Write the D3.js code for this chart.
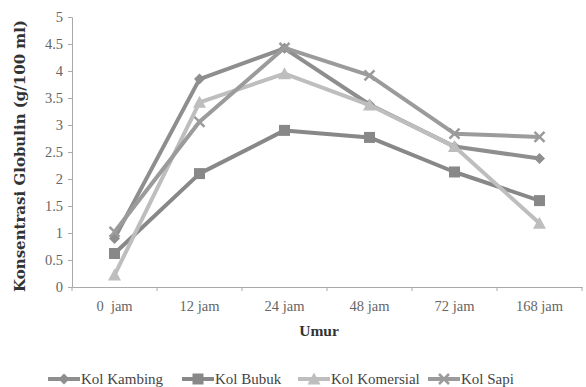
<!DOCTYPE html>
<html><head><meta charset="utf-8">
<script src="https://cdn.jsdelivr.net/npm/d3@7"></script>
<style>body{margin:0;background:#fff}svg{display:block}</style>
</head><body>
<svg id="c" width="586" height="387"></svg>
<script>
const categories = ["0  jam","12 jam","24 jam","48 jam","72 jam","168 jam"];
const yTicks = [0,0.5,1,1.5,2,2.5,3,3.5,4,4.5,5];
const seriesNames = ["Kol Kambing","Kol Bubuk","Kol Komersial","Kol Sapi"];
const kolKambing = [0.9,3.85,4.42,3.38,2.6,2.38];
const kolBubuk = [0.62,2.1,2.9,2.77,2.13,1.6];
const kolKomersial = [0.22,3.42,3.95,3.37,2.6,1.18];
const kolSapi = [1.02,3.06,4.43,3.92,2.84,2.78];

const colors = ["#8e8e8e","#888888","#bebebe","#9b9b9b"];
const markers = ["diamond","square","triangle","x"];
const data = [kolKambing,kolBubuk,kolKomersial,kolSapi];

const svg = d3.select("#c");
const font = "'Liberation Serif','DejaVu Serif',serif";
const x = d3.scaleBand().domain(categories).range([72,582]);
const y = d3.scaleLinear().domain([0,5]).range([287,17]);

// y axis
const ya = svg.append("g").attr("transform","translate(72,0)")
  .call(d3.axisLeft(y).tickValues(yTicks).tickSize(4).tickFormat(d=>String(d)));
ya.select(".domain").attr("stroke","#aaa");
ya.selectAll(".tick line").attr("stroke","#aaa");
ya.selectAll(".tick text").attr("fill","#666").style("font-family",font).style("font-size","14.5px").attr("x",-9);

// x axis
const xa = svg.append("g").attr("transform","translate(0,287)")
  .call(d3.axisBottom(x).tickSize(0).tickSizeOuter(0));
xa.select(".domain").attr("stroke","#aaa");
xa.selectAll(".tick text").attr("fill","#666").style("font-family",font).style("font-size","14.5px").attr("dy","0").attr("y",24).style("white-space","pre");
// boundary ticks between categories
const bounds = categories.map(c=>x(c)).concat([582]);
svg.append("g").selectAll("line").data(bounds).join("line")
  .attr("x1",d=>d).attr("x2",d=>d).attr("y1",287).attr("y2",291).attr("stroke","#aaa");

// titles
const yt = svg.append("text").attr("transform","translate(25,156) rotate(-90)").attr("text-anchor","middle")
  .style("font-family","'DejaVu Serif',serif").style("font-weight","bold").style("font-size","15px").attr("fill","#333")
  .text("Konsentrasi Globulin (g/100 ml)");
// shrink font to fit the available height if needed
const w = yt.node().getComputedTextLength();
if (w > 272) yt.style("font-size", (15*272/w).toFixed(2)+"px");

svg.append("text").attr("x",319).attr("y",336).attr("text-anchor","middle")
  .style("font-family",font).style("font-weight","bold").style("font-size","15.5px").attr("fill","#333")
  .text("Umur");

function markerPath(type, s){
  const h=s/2;
  if(type==="diamond") return `M0,${-h}L${h},0L0,${h}L${-h},0Z`;
  if(type==="square") return `M${-h},${-h}H${h}V${h}H${-h}Z`;
  if(type==="triangle") return `M0,${-h-1}L${h+1},${h}L${-h-1},${h}Z`;
  return `M${-h},${-h}L${h},${h}M${-h},${h}L${h},${-h}`;
}
function drawMarker(g,type,color){
  if(type==="x") g.append("path").attr("d",markerPath(type,10)).attr("stroke",color).attr("stroke-width",2.5).attr("fill","none");
  else g.append("path").attr("d",markerPath(type,11)).attr("fill",color);
}

const line = d3.line().x((d,i)=>x(categories[i])+x.bandwidth()/2).y(d=>y(d));
data.forEach((vals,si)=>{
  const g = svg.append("g");
  g.append("path").datum(vals).attr("d",line).attr("fill","none")
    .attr("stroke",colors[si]).attr("stroke-width",4).attr("stroke-linejoin","round");
  vals.forEach((v,i)=>{
    const mg = g.append("g").attr("transform",`translate(${x(categories[i])+x.bandwidth()/2},${y(v)})`);
    drawMarker(mg,markers[si],colors[si]);
  });
});

// legend
const legX = [48,182,298,428];
seriesNames.forEach((n,i)=>{
  const g = svg.append("g").attr("transform",`translate(${legX[i]},379)`);
  g.append("line").attr("x1",0).attr("x2",32).attr("stroke",colors[i]).attr("stroke-width",4);
  const mg = g.append("g").attr("transform","translate(16,0)");
  drawMarker(mg,markers[i],colors[i]);
  g.append("text").attr("x",33).attr("y",5).style("font-family",font).style("font-size","15px").attr("fill","#444").text(n);
});
</script>
</body></html>
